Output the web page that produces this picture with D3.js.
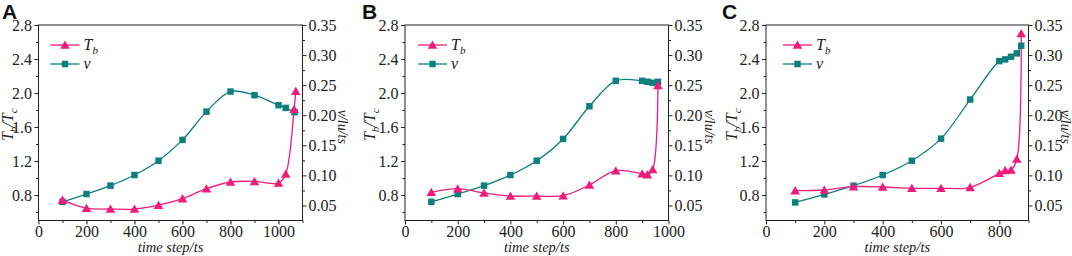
<!DOCTYPE html>
<html>
<head>
<meta charset="utf-8">
<script src="https://cdn.jsdelivr.net/npm/d3@7"></script>
<style>
  body { margin: 0; background: #fff; }
  svg { display: block; }
  svg text { font-family: "Liberation Serif", "Tinos", "Times New Roman", "DejaVu Serif", serif; }
  svg text.letter { font-family: "Liberation Sans", Arial, sans-serif; }
</style>
</head>
<body>
<div id="chart"></div>
<script>
// ---- data ----
const stepsA_Tb = [100, 200, 300, 400, 500, 600, 700, 800, 900, 1000, 1030, 1065, 1072];
const tbA       = [0.74, 0.645, 0.635, 0.635, 0.68, 0.757, 0.874, 0.953, 0.96, 0.941, 1.047, 1.808, 2.02];
const stepsA_v  = [100, 200, 300, 400, 500, 600, 700, 800, 900, 1000, 1030, 1067];
const vA        = [0.056, 0.069, 0.083, 0.1006, 0.1244, 0.159, 0.206, 0.2394, 0.2333, 0.2167, 0.2122, 0.205];

const stepsB_Tb = [100, 200, 300, 400, 500, 600, 700, 800, 900, 920, 940, 960];
const tbB       = [0.832, 0.874, 0.824, 0.788, 0.788, 0.792, 0.918, 1.086, 1.05, 1.04, 1.10, 2.09];
const stepsB_v  = [100, 200, 300, 400, 500, 600, 700, 800, 900, 920, 940, 960];
const vB        = [0.056, 0.069, 0.083, 0.1006, 0.1244, 0.1606, 0.215, 0.2572, 0.2572, 0.2556, 0.254, 0.2556];

const stepsC_Tb = [100, 200, 300, 400, 500, 600, 700, 800, 820, 840, 860, 875];
const tbC       = [0.851, 0.859, 0.898, 0.894, 0.879, 0.879, 0.89, 1.055, 1.09, 1.094, 1.224, 2.70];
const stepsC_v  = [100, 200, 300, 400, 500, 600, 700, 800, 820, 840, 860, 875];
const vC        = [0.055, 0.0683, 0.0828, 0.1006, 0.1244, 0.1611, 0.2261, 0.29, 0.2928, 0.2972, 0.3028, 0.3155];

const leftTicks  = [0.8, 1.2, 1.6, 2.0, 2.4, 2.8];
const rightTicks = [0.05, 0.10, 0.15, 0.20, 0.25, 0.30, 0.35];
const xTicksA = [0, 200, 400, 600, 800, 1000];
const xTicksB = [0, 200, 400, 600, 800, 1000];
const xTicksC = [0, 200, 400, 600, 800];

// ---- layout ----
const W = 1072, H = 256;
const plotTop = 25, plotBottom = 220.5;
const pink = "#f01c7c", teal = "#0d7f7c";
const ink = "#222";

const svg = d3.select("#chart").append("svg")
    .attr("width", W)
    .attr("height", H);

const panels = [
    {label: "A", x0: 38.5, x1: 302.5, xMax: 1100, xTicks: xTicksA, leg: 12,
     sTb: stepsA_Tb, tb: tbA, sV: stepsA_v, v: vA, ltx: 13, rtx: 338, lx: 2},
    {label: "B", x0: 405, x1: 668.5, xMax: 1000, xTicks: xTicksB, leg: 13,
     sTb: stepsB_Tb, tb: tbB, sV: stepsB_v, v: vB, ltx: 375, rtx: 705, lx: 362},
    {label: "C", x0: 766, x1: 1028.5, xMax: 900, xTicks: xTicksC, leg: 17,
     sTb: stepsC_Tb, tb: tbC, sV: stepsC_v, v: vC, ltx: 737, rtx: 1060.5, lx: 722}
];

panels.forEach(p => {
    const g = svg.append("g");

    const x = d3.scaleLinear().domain([0, p.xMax]).range([p.x0, p.x1]);
    const yL = d3.scaleLinear().domain([0.5, 2.8]).range([plotBottom, plotTop]);
    const yR = d3.scaleLinear().domain([0.025, 0.35]).range([plotBottom, plotTop]);

    // minor ticks
    const minorX = d3.range(100, p.xMax + 1, 200);
    g.append("g").attr("transform", `translate(0,${plotBottom})`)
        .call(d3.axisBottom(x).tickValues(minorX).tickSize(2.5).tickFormat(""))
        .call(a => a.select(".domain").remove());
    g.append("g").attr("transform", `translate(${p.x0},0)`)
        .call(d3.axisLeft(yL).tickValues([0.6, 1.0, 1.4, 1.8, 2.2, 2.6]).tickSize(2.5).tickFormat(""))
        .call(a => a.select(".domain").remove());
    g.append("g").attr("transform", `translate(${p.x1},0)`)
        .call(d3.axisRight(yR).tickValues([0.075, 0.125, 0.175, 0.225, 0.275, 0.325]).tickSize(2.5).tickFormat(""))
        .call(a => a.select(".domain").remove());

    // major axes
    const xa = g.append("g").attr("transform", `translate(0,${plotBottom})`)
        .call(d3.axisBottom(x).tickValues(p.xTicks).tickSize(4).tickPadding(1).tickFormat(d3.format("d")));
    const la = g.append("g").attr("transform", `translate(${p.x0},0)`)
        .call(d3.axisLeft(yL).tickValues(leftTicks).tickSize(4).tickPadding(2.5).tickFormat(d3.format(".1f")));
    const ra = g.append("g").attr("transform", `translate(${p.x1},0)`)
        .call(d3.axisRight(yR).tickValues(rightTicks).tickSize(4).tickPadding(2).tickFormat(d3.format(".2f")));
    [xa, la, ra].forEach(a => {
        a.attr("font-family", null).attr("font-size", null);
        a.select(".domain").remove();
        a.selectAll("text").attr("font-size", 16).attr("fill", ink);
    });
    g.selectAll(".tick line").attr("stroke", ink);

    // frame
    g.append("rect")
        .attr("x", p.x0).attr("y", plotTop)
        .attr("width", p.x1 - p.x0).attr("height", plotBottom - plotTop)
        .attr("fill", "none").attr("stroke", ink).attr("stroke-width", 1);

    // curves
    const lineTb = d3.line().curve(d3.curveCatmullRom.alpha(0.5))
        .x(d => x(d[0])).y(d => yL(d[1]));
    const lineV = d3.line().curve(d3.curveCatmullRom.alpha(0.5))
        .x(d => x(d[0])).y(d => yR(d[1]));
    const tbPts = d3.zip(p.sTb, p.tb);
    const vPts = d3.zip(p.sV, p.v);

    g.append("path").datum(vPts).attr("d", lineV)
        .attr("fill", "none").attr("stroke", teal).attr("stroke-width", 1.3);
    g.append("path").datum(tbPts).attr("d", lineTb)
        .attr("fill", "none").attr("stroke", pink).attr("stroke-width", 1.3);

    const tri = d3.symbol().type(d3.symbolTriangle).size(40);
    const sq = d3.symbol().type(d3.symbolSquare).size(42);

    g.selectAll(".sq").data(vPts).enter().append("path")
        .attr("transform", d => `translate(${x(d[0])},${yR(d[1])})`)
        .attr("d", sq).attr("fill", teal);
    g.selectAll(".tri").data(tbPts).enter().append("path")
        .attr("transform", d => `translate(${x(d[0])},${yL(d[1]) + 1})`)
        .attr("d", tri).attr("fill", pink);

    // legend
    const leg = g.append("g").attr("transform", `translate(${p.x0 + p.leg},0)`);
    [[pink, tri, 45, "T", "b"], [teal, sq, 64, "v", null]].forEach(([c, s, ly, t, sub]) => {
        leg.append("line").attr("x1", 0).attr("x2", 29).attr("y1", ly).attr("y2", ly)
            .attr("stroke", c).attr("stroke-width", 1.3);
        leg.append("path").attr("transform", `translate(14.5,${ly + (sub ? 1 : 0)})`)
            .attr("d", s).attr("fill", c);
        const tx = leg.append("text").attr("x", 33).attr("y", ly + 5)
            .attr("font-size", 16).attr("font-style", "italic").attr("fill", ink).text(t);
        if (sub) tx.append("tspan").attr("dy", 4).attr("font-size", 11).text(sub);
    });

    // axis titles
    g.append("text")
        .attr("x", (p.x0 + p.x1) / 2).attr("y", 252)
        .attr("text-anchor", "middle").attr("font-size", 14.5).attr("font-style", "italic")
        .attr("fill", ink).text("time step/ts");

    const lt = g.append("text")
        .attr("transform", `translate(${p.ltx},${(plotTop + plotBottom) / 2 + 2}) rotate(-90)`)
        .attr("text-anchor", "middle").attr("font-size", 16).attr("font-style", "italic")
        .attr("fill", ink);
    lt.append("tspan").text("T");
    lt.append("tspan").attr("dy", 4).attr("font-size", 11).text("b");
    lt.append("tspan").attr("dy", -4).text("/T");
    lt.append("tspan").attr("dy", 4).attr("font-size", 11).text("c");

    g.append("text")
        .attr("transform", `translate(${p.rtx},${(plotTop + plotBottom) / 2 + 4}) rotate(90)`)
        .attr("text-anchor", "middle").attr("font-size", 14).attr("font-style", "italic")
        .attr("fill", ink).text("v/lu/ts");

    // panel letter
    svg.append("text").attr("class", "letter")
        .attr("x", p.lx).attr("y", 18.5)
        .attr("font-weight", "bold").attr("font-size", 21)
        .attr("fill", "#111").text(p.label);
});
</script>
</body>
</html>
